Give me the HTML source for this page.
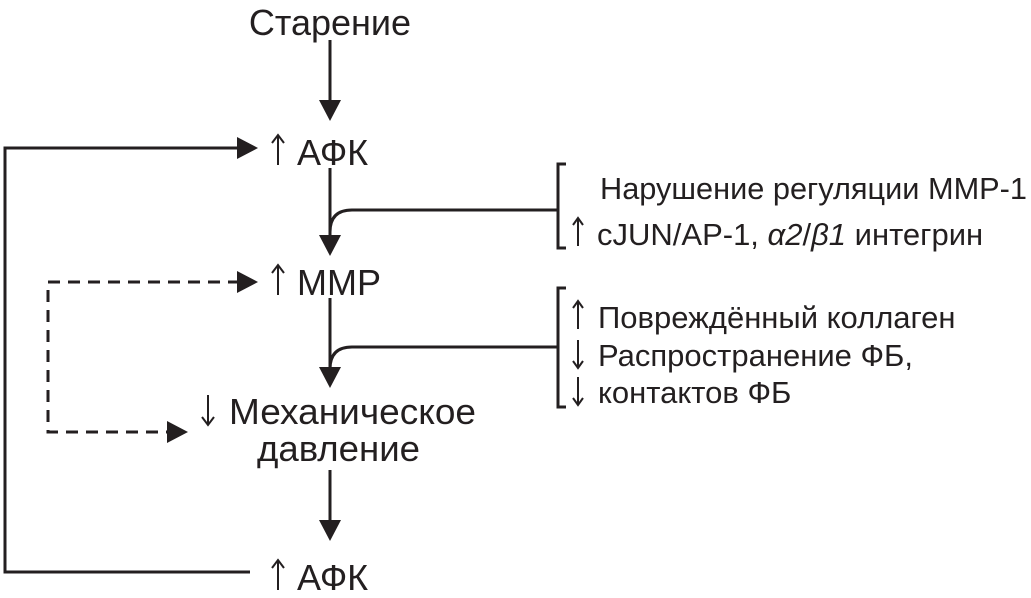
<!DOCTYPE html>
<html><head><meta charset="utf-8"><style>
body{margin:0;background:#fff;}
svg text{font-family:"Liberation Sans",Arial,sans-serif;fill:#231f20;}
</style></head><body>
<svg width="1031" height="593" viewBox="0 0 1031 593" xmlns="http://www.w3.org/2000/svg">
<g stroke="#231f20" stroke-width="3" fill="none">
<line x1="330" y1="40" x2="330" y2="100"/>
<line x1="330" y1="168" x2="330" y2="238"/>
<path d="M330 232 Q330 210 352 210 L558 210"/>
<line x1="330" y1="298" x2="330" y2="370"/>
<path d="M330 369 Q330 347 352 347 L558 347"/>
<line x1="330" y1="470" x2="330" y2="525"/>
<path d="M566 164 L558 164 L558 248 L566 248"/>
<path d="M566 288 L558 288 L558 407 L566 407"/>
<polyline points="250,572 5,572 5,148 240,148"/>
<polyline points="240,282 48,282 48,432 170,432" stroke-dasharray="12,8"/>
</g>
<g fill="#231f20">
<polygon points="319,100 341,100 330,121"/>
<polygon points="319,235 341,235 330,256"/>
<polygon points="319,367 341,367 330,388"/>
<polygon points="319,520 341,520 330,541"/>
<polygon points="237,137 237,159 258,148"/>
<polygon points="237,271 237,293 258,282"/>
<polygon points="167,421 167,443 188,432"/>
</g>
<g stroke="#231f20" stroke-width="2" fill="none">
<path d="M278 165 V135 M272 143 L278 135 L284 143"/>
<path d="M278 295 V265 M272 273 L278 265 L284 273"/>
<path d="M208 395 V425 M202 417 L208 425 L214 417"/>
<path d="M278 590 V560 M272 568 L278 560 L284 568"/>
<path d="M578 246 V218 M573 225 L578 218 L583 225"/>
<path d="M578 329 V301 M573 308 L578 301 L583 308"/>
<path d="M578 340 V368 M573 361 L578 368 L583 361"/>
<path d="M578 377 V405 M573 398 L578 405 L583 398"/>
</g>
<g font-size="36">
<text x="330" y="35" text-anchor="middle">Старение</text>
<text x="297" y="165">АФК</text>
<text x="297" y="295">ММР</text>
<text x="229" y="424" textLength="247" lengthAdjust="spacingAndGlyphs">Механическое</text>
<text x="257" y="461" textLength="163" lengthAdjust="spacingAndGlyphs">давление</text>
<text x="297" y="590">АФК</text>
</g>
<g font-size="31">
<text x="600" y="199" textLength="427" lengthAdjust="spacingAndGlyphs">Нарушение регуляции ММР-1</text>
<text x="597" y="245">cJUN/AP-1, <tspan font-style="italic">α2</tspan>/<tspan font-style="italic">β1</tspan> интегрин</text>
<text x="598" y="328">Повреждённый коллаген</text>
<text x="598" y="366">Распространение ФБ,</text>
<text x="598" y="403">контактов ФБ</text>
</g>
</svg>
</body></html>
